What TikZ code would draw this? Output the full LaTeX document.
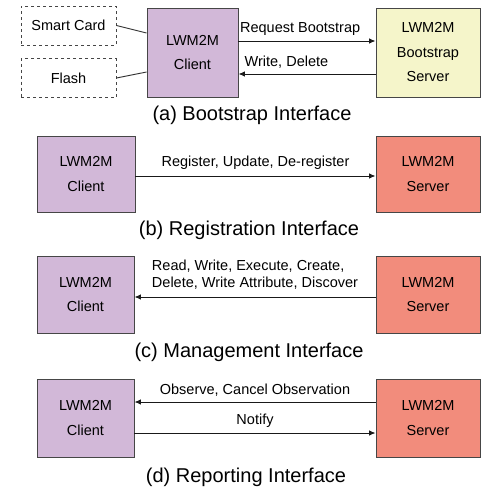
\documentclass[tikz,border=0pt]{standalone}
\usepackage{fontspec}
\setmainfont{Liberation Sans}
\usetikzlibrary{arrows.meta,calc}
\definecolor{clientcol}{RGB}{210,184,216}
\definecolor{servercol}{RGB}{242,140,124}
\definecolor{bootcol}{RGB}{245,245,202}
\definecolor{edgecol}{RGB}{70,70,70}
\tikzset{
	box/.style={draw=edgecol, line width=0.9pt, align=center, font=\fontsize{14.5}{24.5}\selectfont, inner sep=0pt},
	clientbox/.style={box, fill=clientcol, minimum width=#1pt, minimum height=77pt},
	serverbox/.style={box, fill=servercol, minimum width=104pt, minimum height=77pt},
	storebox/.style={draw=edgecol, dashed, line width=0.9pt, minimum width=95pt, minimum height=39pt, font=\fontsize{14.5}{18}\selectfont},
	msg/.style={line width=1pt, color=black!90, -{Latex[length=6.5pt,width=5.5pt]}},
	lbl/.style={font=\fontsize{14.5}{17}\selectfont, text=black},
	caption/.style={font=\fontsize{20}{24}\selectfont}
}

\begin{document}
\begin{tikzpicture}[x=1pt, y=-1pt]
		%%%%% START %%%%%
		\useasboundingbox (0, 0) rectangle (500, 490);
		
		% (a) bootstrap
		\node[storebox] (card) at (68.5, 25.5) {Smart Card};
		\node[storebox] (flash) at (68.5, 78) {Flash};
		\node[clientbox=91, minimum height=89pt] (clientA) at (192.5, 52.5) {LWM2M\\Client};
		\node[box, fill=bootcol, minimum width=104pt, minimum height=89pt] (boot) at (428, 52.5) {LWM2M\\Bootstrap\\Server};
		
		\draw[line width=0.9pt, color=black!80] (card.east) -- ([yshift=19.5pt]clientA.west);
		\draw[line width=0.9pt, color=black!80] (flash.east) -- ([yshift=-19.5pt]clientA.west);
		
		\draw[msg] ([yshift=11.5pt]clientA.east) -- ([yshift=11.5pt]boot.west) node[lbl, pos=0.45, above=2pt] {Request Bootstrap};
		\draw[msg] ([yshift=-21.5pt]boot.west) -- ([yshift=-21.5pt]clientA.east) node[lbl, pos=0.65, above=2pt] {Write, Delete};
		
		\node[caption] (capA) at (252, 115) {(a) Bootstrap Interface};
		
		% (b) registration
		\node[clientbox=98, minimum height=76pt] (clientB) at (86, 174) {LWM2M\\Client};
		\node[serverbox, minimum height=76pt] (serverB) at (428, 174) {LWM2M\\Server};
		\draw[msg] ([yshift=-2pt]clientB.east) -- ([yshift=-2pt]serverB.west) node[lbl, midway, above=3pt] {Register, Update, De-register};
		\node[caption] (capB) at (249, 230) {(b) Registration Interface};
		
		% (c) management
		\node[clientbox=97] (clientC) at (85.5, 294.5) {LWM2M\\Client};
		\node[serverbox] (serverC) at (428, 294.5) {LWM2M\\Server};
		\draw[msg] ([yshift=-2.5pt]serverC.west) -- ([yshift=-2.5pt]clientC.east) node[lbl, midway, above=4pt, align=left] {Read, Write, Execute, Create,\\Delete, Write Attribute, Discover};
		\node[caption] (capC) at (249, 352) {(c) Management Interface};
		
		% (d) reporting
		\node[clientbox=97, minimum height=78pt] (clientD) at (85.5, 418) {LWM2M\\Client};
		\node[serverbox, minimum height=78pt] (serverD) at (428, 418) {LWM2M\\Server};
		\draw[msg] ([yshift=16pt]serverD.west) -- ([yshift=16pt]clientD.east) node[lbl, midway, above=2pt] {Observe, Cancel Observation};
		\draw[msg] ([yshift=-15pt]clientD.east) -- ([yshift=-15pt]serverD.west) node[lbl, midway, above=2pt] {Notify};
		\node[caption] (capD) at (246, 477) {(d) Reporting Interface};
		
		%%%%% END %%%%%
	\end{tikzpicture}
\end{document}
